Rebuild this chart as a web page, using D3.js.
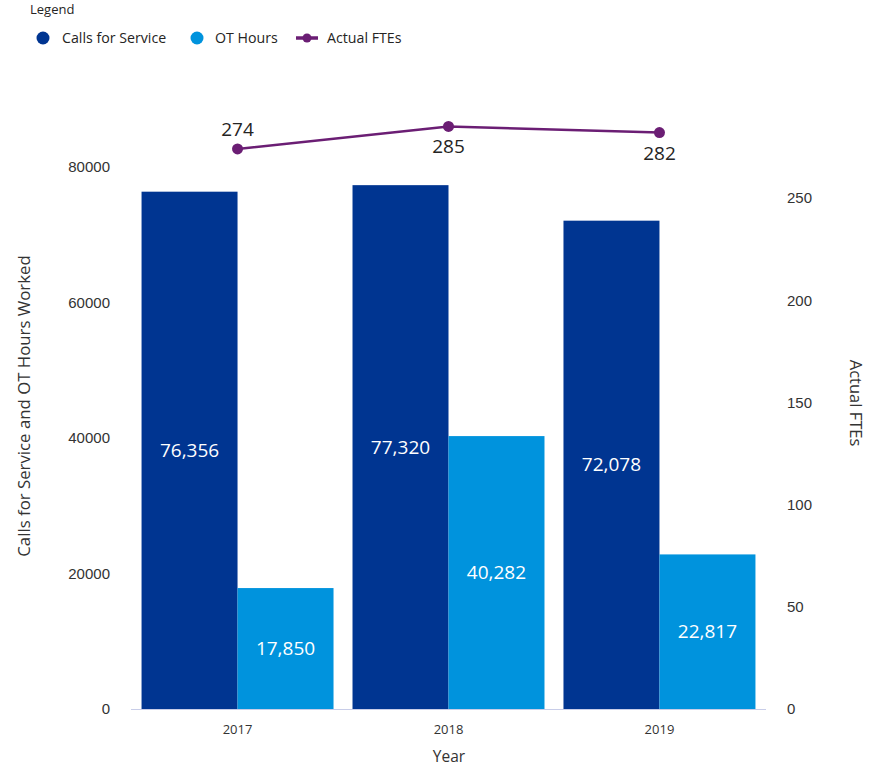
<!DOCTYPE html>
<html>
<head>
<meta charset="utf-8">
<script src="https://cdn.jsdelivr.net/npm/d3@7"></script>
<style>
  html, body { margin: 0; padding: 0; background: #fff; }
  svg { display: block; }
  text { font-family: "Open Sans", "Noto Sans", sans-serif; }
</style>
</head>
<body>
<svg id="chart" width="885" height="768"></svg>
<script>
// Yearly service data
const years = ["2017", "2018", "2019"];
const callsForService = [76356, 77320, 72078];
const otHours = [17850, 40282, 22817];
const actualFTEs = [274, 285, 282];
const leftTicks = [0, 20000, 40000, 60000, 80000];
const rightTicks = [0, 50, 100, 150, 200, 250];

const colors = { calls: "#003591", ot: "#0093DD", fte: "#6B1E74" };

const svg = d3.select("#chart");

const x0 = 131, x1 = 766, yBase = 709;

const x = d3.scaleBand().domain(years).range([x0, x1])
  .paddingInner(0.09).paddingOuter(0.05);
const xSub = d3.scaleBand().domain(["calls", "ot"]).range([0, x.bandwidth()]);
const yLeft = d3.scaleLinear().domain([0, 80000]).range([yBase, 167]);
const yRight = d3.scaleLinear().domain([0, 250]).range([yBase, 198]);

// Bars
const groups = svg.append("g").selectAll("g").data(years).join("g")
  .attr("transform", d => `translate(${x(d)},0)`);

const barData = (i) => [
  { key: "calls", value: callsForService[i] },
  { key: "ot", value: otHours[i] }
];

groups.each(function (year, i) {
  const g = d3.select(this);
  const data = barData(i);
  g.selectAll("rect").data(data).join("rect")
    .attr("x", d => xSub(d.key))
    .attr("width", xSub.bandwidth())
    .attr("y", d => yLeft(d.value))
    .attr("height", d => yBase - yLeft(d.value))
    .attr("fill", d => colors[d.key]);
  g.selectAll("text.val").data(data).join("text")
    .attr("class", "val")
    .attr("x", d => xSub(d.key) + xSub.bandwidth() / 2)
    .attr("y", d => (yLeft(d.value) + yBase) / 2)
    .attr("dy", "0.35em")
    .attr("text-anchor", "middle")
    .attr("fill", "#fff")
    .style("font-size", "19px")
    .text(d => d3.format(",")(d.value));
});

// Baseline
svg.append("line")
  .attr("x1", x0).attr("x2", x1)
  .attr("y1", yBase + 0.5).attr("y2", yBase + 0.5)
  .attr("stroke", "#c8cde8").attr("stroke-width", 1);

// Left axis
const leftAxis = svg.append("g").attr("transform", "translate(110,0)")
  .call(d3.axisLeft(yLeft).tickValues(leftTicks).tickSize(0).tickPadding(0).tickFormat(d3.format("d")));
leftAxis.select(".domain").remove();
leftAxis.selectAll("text")
  .style("font-family", "'Liberation Sans', Arial, sans-serif")
  .style("font-size", "15px").attr("fill", "#333");

// Right axis
const rightAxis = svg.append("g").attr("transform", "translate(787,0)")
  .call(d3.axisRight(yRight).tickValues(rightTicks).tickSize(0).tickPadding(0));
rightAxis.select(".domain").remove();
rightAxis.selectAll("text")
  .style("font-family", "'Liberation Sans', Arial, sans-serif")
  .style("font-size", "15px").attr("fill", "#333");

// Bottom axis labels
svg.append("g").selectAll("text").data(years).join("text")
  .attr("x", d => x(d) + x.bandwidth() / 2)
  .attr("y", 734)
  .attr("text-anchor", "middle")
  .attr("fill", "#333")
  .style("font-size", "13px")
  .text(d => d);

// Axis titles
svg.append("text")
  .attr("transform", "translate(30,406) rotate(-90)")
  .attr("text-anchor", "middle")
  .attr("fill", "#333")
  .style("font-size", "16.8px")
  .text("Calls for Service and OT Hours Worked");

svg.append("text")
  .attr("transform", "translate(850,403) rotate(90)")
  .attr("text-anchor", "middle")
  .attr("fill", "#333")
  .style("font-size", "16.5px")
  .text("Actual FTEs");

svg.append("text")
  .attr("x", 449).attr("y", 762)
  .attr("text-anchor", "middle")
  .attr("fill", "#333")
  .style("font-size", "15.5px")
  .text("Year");

// FTE line
const fteData = years.map((y, i) => ({ year: y, value: actualFTEs[i] }));
const cx = d => x(d.year) + x.bandwidth() / 2;

svg.append("path").datum(fteData)
  .attr("fill", "none")
  .attr("stroke", colors.fte)
  .attr("stroke-width", 2.5)
  .attr("d", d3.line().x(cx).y(d => yRight(d.value)));

svg.append("g").selectAll("circle").data(fteData).join("circle")
  .attr("cx", cx).attr("cy", d => yRight(d.value))
  .attr("r", 5.5).attr("fill", colors.fte);

const labelBelow = [false, true, true];
svg.append("g").selectAll("text").data(fteData).join("text")
  .attr("x", cx)
  .attr("y", (d, i) => yRight(d.value) + (labelBelow[i] ? 27 : -13))
  .attr("text-anchor", "middle")
  .attr("fill", "#252423")
  .style("font-size", "19px")
  .text(d => d.value);

// Legend
const legend = svg.append("g");
legend.append("text").attr("x", 30).attr("y", 14)
  .attr("fill", "#252423").style("font-size", "13px").text("Legend");

const legendItems = [
  { label: "Calls for Service", color: colors.calls, type: "dot", x: 43, tx: 62 },
  { label: "OT Hours", color: colors.ot, type: "dot", x: 197, tx: 215 },
  { label: "Actual FTEs", color: colors.fte, type: "line", x: 307, tx: 327 }
];
legendItems.forEach(it => {
  if (it.type === "dot") {
    legend.append("circle").attr("cx", it.x).attr("cy", 38).attr("r", 6.5).attr("fill", it.color);
  } else {
    legend.append("line").attr("x1", it.x - 11).attr("x2", it.x + 11)
      .attr("y1", 38).attr("y2", 38).attr("stroke", it.color).attr("stroke-width", 3.5);
    legend.append("circle").attr("cx", it.x).attr("cy", 38).attr("r", 4.5).attr("fill", it.color);
  }
  legend.append("text").attr("x", it.tx).attr("y", 38).attr("dy", "0.35em")
    .attr("fill", "#252423").style("font-size", "14.2px").text(it.label);
});
</script>
</body>
</html>
